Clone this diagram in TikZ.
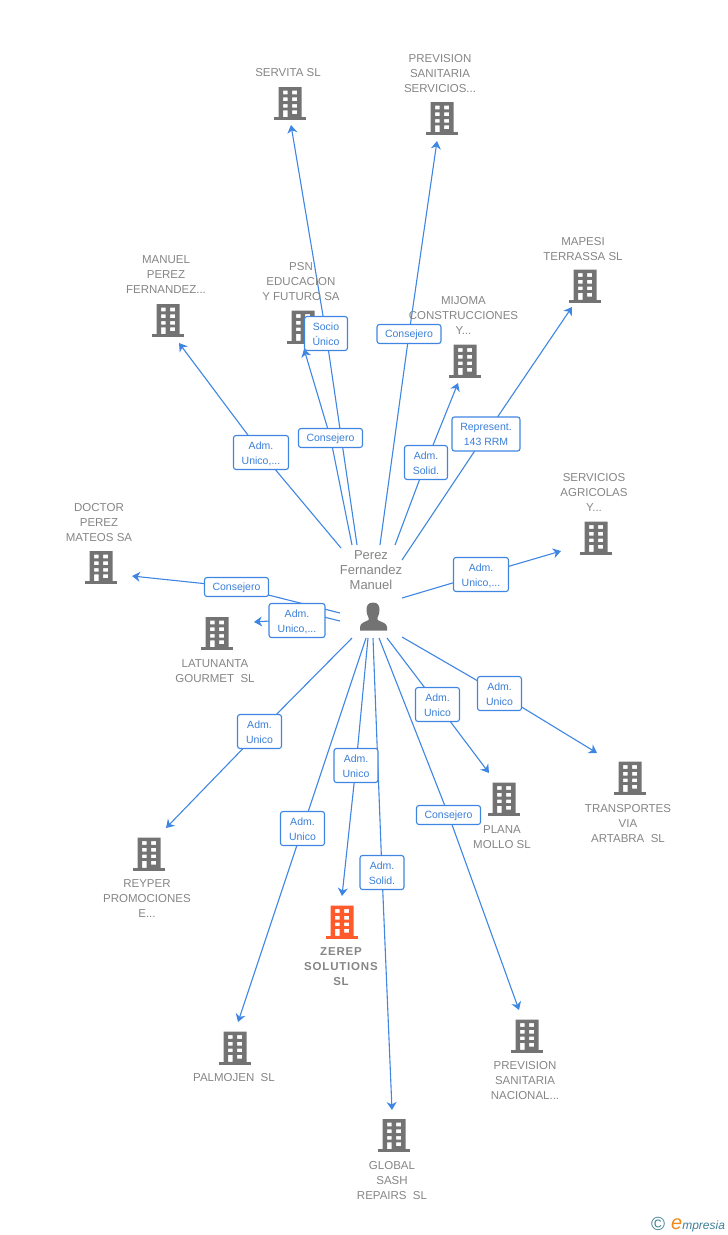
\documentclass[tikz,border=0pt]{standalone}
\usepackage{fontspec}
\setmainfont{Liberation Sans}
\usetikzlibrary{arrows.meta}
\pgfdeclarelayer{edges}
\pgfsetlayers{edges,main}
\definecolor{edgeblue}{HTML}{3F86E3}
\definecolor{labelblue}{HTML}{3A7FD8}
\definecolor{txtgray}{HTML}{858585}
\definecolor{icongray}{HTML}{737373}
\definecolor{iconred}{HTML}{FF5A2B}
\definecolor{logoblue}{HTML}{3F7F96}
\definecolor{logoorange}{HTML}{F08A1D}
\tikzset{
  bldg/.pic={
    \fill[#1,even odd rule]
      (-11.5,-16.5) rectangle (11.5,13.8)
      (-7,-12.8) rectangle (-2.5,-9.2) (2,-12.8) rectangle (7,-9.2)
      (-7,-6.2) rectangle (-2.5,-2.5) (2,-6.2) rectangle (7,-2.5)
      (-7,0.5) rectangle (-2.5,4.2) (2,0.5) rectangle (7,4.2)
      (-7,6.8) rectangle (-2.5,13.8) (2,6.8) rectangle (7,10.6);
    \fill[#1] (-16,13.8) rectangle (16,16.5);
  },
  anchorpt/.style={coordinate},
  caption/.style={text=txtgray,align=center,inner sep=0pt,yshift=-0.7pt,font=\fontsize{11.5}{15}\selectfont},
  tag/.style={draw=edgeblue,line width=1.1pt,rounded corners=2.5pt,fill=white,text=labelblue,
    align=center,inner sep=0pt,font=\fontsize{10.5}{15}\selectfont},
  taga/.style={tag,minimum width=64pt,minimum height=19pt,text height=8pt,text depth=0.5pt},
  tagb/.style={tag,minimum width=44pt,minimum height=34pt,text height=25.5pt,text depth=2pt},
  link/.style={draw=edgeblue,line width=1.1pt,-{Stealth[length=8pt,width=10pt,inset=2.5pt]}},
}
\begin{document}
\begin{tikzpicture}[x=1pt,y=-1pt]
\useasboundingbox (0,0) rectangle (728,1235);
% companies
\pic at (290,103.5) {bldg=icongray}; \node[anchorpt] (servita) at (291,125) {};
\pic at (442,118.5) {bldg=icongray}; \node[anchorpt] (prevs) at (437,141) {};
\pic at (168,320.5) {bldg=icongray}; \node[anchorpt] (manuel) at (179,343) {};
\pic at (303,327) {bldg=icongray}; \node[anchorpt] (psn) at (304,349) {};
\pic at (465,361) {bldg=icongray}; \node[anchorpt] (mijoma) at (458,383) {};
\pic at (585,286) {bldg=icongray}; \node[anchorpt] (mapesi) at (572,307) {};
\pic at (596,538) {bldg=icongray}; \node[anchorpt] (servag) at (561,551) {};
\pic at (101,567.5) {bldg=icongray}; \node[anchorpt] (doctor) at (132,576) {};
\pic at (217,633.5) {bldg=icongray}; \node[anchorpt] (latun) at (254,622) {};
\pic at (149,854) {bldg=icongray}; \node[anchorpt] (reyper) at (166,828) {};
\pic at (235,1048) {bldg=icongray}; \node[anchorpt] (palmo) at (238,1022) {};
\pic at (342,922) {bldg=iconred}; \node[anchorpt] (zerep) at (342,896) {};
\pic at (394,1135.5) {bldg=icongray}; \node[anchorpt] (global) at (392,1110) {};
\pic at (527,1036) {bldg=icongray}; \node[anchorpt] (prevn) at (519,1010) {};
\pic at (504,799) {bldg=icongray}; \node[anchorpt] (plana) at (489,773) {};
\pic at (630,778) {bldg=icongray}; \node[anchorpt] (transp) at (597,753) {};
% captions
\node[caption] (tservita) at (288,72) {SERVITA SL};
\node[caption] (tprevs) at (440,73) {PREVISION\\SANITARIA\\SERVICIOS...};
\node[caption] (tmanuel) at (166,274) {MANUEL\\PEREZ\\FERNANDEZ...};
\node[caption] (tpsn) at (301,281) {PSN\\EDUCACION\\Y FUTURO SA};
\node[caption] (tmijoma) at (463.5,315) {MIJOMA\\CONSTRUCCIONES\\Y...};
\node[caption] (tmapesi) at (583,248) {MAPESI\\TERRASSA SL};
\node[caption] (tservag) at (594,492) {SERVICIOS\\AGRICOLAS\\Y...};
\node[caption] (tdoctor) at (99,522) {DOCTOR\\PEREZ\\MATEOS SA};
\node[caption] (tlatun) at (215,670.5) {LATUNANTA\\GOURMET\ \ SL};
\node[caption] (treyper) at (147,898) {REYPER\\PROMOCIONES\\E...};
\node[caption] (tpalmo) at (234,1077) {PALMOJEN\ \ SL};
\node[caption,font=\fontsize{11.5}{15}\selectfont\bfseries\addfontfeature{LetterSpace=7}] (tzerep) at (341,965.5) {ZEREP\\SOLUTIONS\\SL};
\node[caption] (tglobal) at (392,1180) {GLOBAL\\SASH\\REPAIRS\ \ SL};
\node[caption] (tprevn) at (525,1080) {PREVISION\\SANITARIA\\NACIONAL...};
\node[caption] (tplana) at (502,836.5) {PLANA\\MOLLO SL};
\node[caption] (ttransp) at (628,822.5) {TRANSPORTES\\VIA\\ARTABRA\ \ SL};
% person
\node[caption,font=\fontsize{13}{15}\selectfont] (tperson) at (371,569) {Perez\\Fernandez\\Manuel};
\node[anchorpt] (person) at (373,618) {};
\fill[icongray] (373,602.5) .. controls (368,602.5) and (366.5,606) .. (366.5,609.5)
  .. controls (366.5,613) and (367.5,616) .. (368.5,617.5) -- (368.5,620)
  .. controls (365,622) and (360,623) .. (360,627) -- (360,630.5) -- (387,630.5) -- (387,627)
  .. controls (387,623) and (381,622) .. (377.5,620) -- (377.5,617.5)
  .. controls (378.5,616) and (379.5,613) .. (379.5,609.5)
  .. controls (379.5,606) and (378,602.5) .. (373,602.5) -- cycle;
% connector start points around the person
\node[anchorpt] (s1) at (357,545) {};
\node[anchorpt] (s2) at (380,545) {};
\node[anchorpt] (s3) at (341,548) {};
\node[anchorpt] (s4) at (352,545) {};
\node[anchorpt] (s5) at (395,545) {};
\node[anchorpt] (s6) at (402,560) {};
\node[anchorpt] (s7) at (402,598) {};
\node[anchorpt] (s8) at (340,613) {};
\node[anchorpt] (s9) at (340,621) {};
\node[anchorpt] (s10) at (352,638) {};
\node[anchorpt] (s11) at (366,638) {};
\node[anchorpt] (s12) at (368,638) {};
\node[anchorpt] (s13) at (373,638) {};
\node[anchorpt] (s14) at (379,638) {};
\node[anchorpt] (s15) at (387,638) {};
\node[anchorpt] (s16) at (402,637) {};
\node[anchorpt] (v9a) at (318,615.5) {};
\node[anchorpt] (v9b) at (285,620) {};
% relation tags
\node[tagb,minimum width=43pt] (l1) at (326,333.5) {Socio\\Único};
\node[taga] (l2) at (409,334) {Consejero};
\node[tagb,minimum width=55pt] (l3) at (261,452.5) {Adm.\\Unico,...};
\node[taga] (l4) at (330.5,438) {Consejero};
\node[tagb,minimum width=43pt] (l5) at (426,462.5) {Adm.\\Solid.};
\node[tagb,minimum width=68pt] (l6) at (486,434) {Represent.\\143 RRM};
\node[tagb,minimum width=55pt] (l7) at (481,574.5) {Adm.\\Unico,...};
\node[taga] (l8) at (236.5,587) {Consejero};
\node[tagb,minimum width=56pt] (l9) at (297,620.5) {Adm.\\Unico,...};
\node[tagb] (l10) at (259.5,731.5) {Adm.\\Unico};
\node[tagb] (l11) at (302.5,828.5) {Adm.\\Unico};
\node[tagb] (l12) at (356,765.5) {Adm.\\Unico};
\node[tagb] (l13) at (382,872.5) {Adm.\\Solid.};
\node[taga] (l14) at (448.5,815) {Consejero};
\node[tagb] (l15) at (437.5,704.5) {Adm.\\Unico};
\node[tagb] (l16) at (499.5,693.5) {Adm.\\Unico};
% connectors
\begin{pgfonlayer}{edges}
\draw[link] (s1) -- (l1.center) -- (servita);
\draw[link] (s2) -- (l2.center) -- (prevs);
\draw[link] (s3) -- (l3.center) -- (manuel);
\draw[link] (s4) -- (l4.center) -- (psn);
\draw[link] (s5) -- (l5.center) -- (mijoma);
\draw[link] (s6) -- (l6.center) -- (mapesi);
\draw[link] (s7) -- (l7.center) -- (servag);
\draw[link] (s8) -- (l8.center) -- (doctor);
\draw[link] (s9) -- (v9a) -- (v9b) -- (latun);
\draw[link] (s10) -- (l10.center) -- (reyper);
\draw[link] (s11) -- (l11.center) -- (palmo);
\draw[link] (s12) -- (l12.center) -- (zerep);
\draw[link] (s13) -- (l13.center) -- (global);
\draw[link] (s14) -- (l14.center) -- (prevn);
\draw[link] (s15) -- (l15.center) -- (plana);
\draw[link] (s16) -- (l16.center) -- (transp);
\end{pgfonlayer}
% logo
\node[text=logoblue,inner sep=0pt,font=\fontsize{19}{19}\selectfont] (copy) at (658,1224) {©};
\node[anchor=west,inner sep=0pt,text=logoblue,font=\fontsize{12}{12}\selectfont\itshape] (brand) at (671,1225)
  {{\color{logoorange}\fontsize{20}{18}\selectfont e}mpresia};
\end{tikzpicture}
\end{document}
